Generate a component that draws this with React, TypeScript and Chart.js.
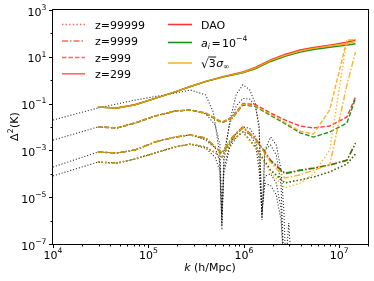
import React, { useEffect, useRef } from 'react';
import { Chart, registerables } from 'chart.js';
Chart.register(...registerables);

// ---- data (log10 values) ----
const K_MODEL_LOG10 = [4.47, 4.67, 4.86, 5.07, 5.28, 5.44, 5.60, 5.77, 5.88, 5.99, 6.12, 6.28, 6.43, 6.59, 6.73, 6.90, 7.08, 7.17];

const DAO_Z299 = [-1.15, -1.19, -1.05, -0.78, -0.50, -0.27, -0.05, 0.14, 0.25, 0.35, 0.55, 0.87, 1.10, 1.29, 1.40, 1.50, 1.62, 1.72];
const AI_Z299 = [-1.15, -1.19, -1.05, -0.78, -0.50, -0.27, -0.06, 0.12, 0.22, 0.31, 0.49, 0.80, 1.02, 1.20, 1.31, 1.41, 1.50, 1.56];
const SIG_Z299 = [-1.15, -1.19, -1.05, -0.78, -0.50, -0.27, -0.05, 0.13, 0.24, 0.33, 0.52, 0.84, 1.06, 1.25, 1.36, 1.46, 1.56, 1.65];

const DAO_Z999 = [-2.00, -2.04, -1.83, -1.53, -1.32, -1.27, -1.40, -1.79, -1.57, -1.00, -1.04, -1.40, -1.70, -1.96, -2.04, -1.96, -1.57, -0.72];
const AI_Z999 = [-2.00, -2.04, -1.83, -1.53, -1.32, -1.27, -1.42, -1.82, -1.62, -1.06, -1.12, -1.50, -1.85, -2.25, -2.43, -2.21, -1.83, -0.78];
const SIG_Z999 = [-2.00, -2.04, -1.83, -1.53, -1.32, -1.27, -1.41, -1.80, -1.60, -1.03, -1.09, -1.46, -1.80, -2.18, -2.30, -1.27, 1.72, 1.72];

const DAO_Z9999 = [-3.07, -3.11, -2.98, -2.64, -2.43, -2.34, -2.47, -3.11, -2.43, -2.00, -2.47, -3.41, -3.97, -3.84, -3.75, -3.62, -3.41, -2.68];
const AI_Z9999 = [-3.07, -3.11, -2.98, -2.64, -2.43, -2.34, -2.48, -3.13, -2.46, -2.04, -2.52, -3.45, -4.00, -3.86, -3.77, -3.63, -3.43, -2.70];
const SIG_Z9999 = [-3.07, -3.11, -2.98, -2.64, -2.43, -2.34, -2.47, -3.11, -2.44, -2.02, -2.50, -3.50, -4.18, -4.05, -3.84, -3.62, -0.20, 1.20];

const DAO_Z99999 = [-3.50, -3.54, -3.37, -3.11, -2.85, -2.73, -2.85, -3.28, -2.56, -2.21, -2.85, -3.84, -4.39, -4.26, -4.14, -3.92, -3.58, -3.15];
const AI_Z99999 = [-3.50, -3.54, -3.37, -3.11, -2.85, -2.73, -2.85, -3.28, -2.56, -2.21, -2.85, -3.84, -4.39, -4.26, -4.14, -3.92, -3.58, -3.15];
const SIG_Z99999 = [-3.50, -3.54, -3.37, -3.11, -2.85, -2.73, -2.85, -3.28, -2.56, -2.21, -2.88, -3.95, -4.60, -4.40, -4.00, -2.98, 1.72, 1.72];

const K_BLACK1_LOG10 = [4.00, 4.47, 4.86, 5.28, 5.44, 5.60, 5.68, 5.74, 5.77, 5.79, 5.85, 5.92, 5.99, 6.06, 6.12, 6.16, 6.19, 6.22, 6.28, 6.34, 6.39, 6.42, 6.44, 6.47, 6.50];
const BLACK_Z299 = [-1.70, -1.19, -0.85, -0.55, -0.42, -0.63, -1.36, -2.98, -6.20, -3.50, -1.80, -0.60, -0.20, -0.40, -1.00, -2.10, -5.90, -3.00, -2.43, -2.77, -3.84, -5.60, -8.00, -6.10, -8.00];

const K_BLACK_LOG10 = [4.00, 4.47, 4.67, 4.86, 5.07, 5.28, 5.44, 5.60, 5.70, 5.75, 5.77, 5.79, 5.85, 5.92, 5.99, 6.06, 6.12, 6.16, 6.19, 6.22, 6.28, 6.34, 6.39, 6.42];
const BLACK_Z999 = [-2.56, -2.00, -2.04, -1.83, -1.53, -1.32, -1.27, -1.44, -1.91, -2.77, -6.40, -3.20, -1.90, -1.10, -0.78, -0.80, -1.10, -1.90, -5.97, -3.00, -2.77, -3.20, -4.50, -8.00];
const BLACK_Z9999 = [-3.71, -3.07, -3.11, -2.98, -2.64, -2.43, -2.34, -2.56, -2.90, -3.50, -5.76, -3.80, -2.80, -2.25, -2.00, -2.05, -2.40, -3.40, -5.76, -4.10, -4.00, -4.40, -5.50, -8.00];
const BLACK_Z99999 = [-4.09, -3.50, -3.54, -3.37, -3.11, -2.85, -2.73, -2.90, -3.30, -3.90, -5.97, -4.00, -2.90, -2.45, -2.21, -2.30, -2.70, -3.84, -5.63, -4.40, -4.50, -4.90, -6.00, -8.00];

const X_TICK_EXP = [4, 5, 6, 7];
const Y_TICK_EXP = [3, 1, -1, -3, -5, -7];
const Z_LABELS = ['z=99999', 'z=9999', 'z=999', 'z=299'];

// ---- styles ----
const RED = 'rgba(255,0,0,0.8)';
const GREEN = 'rgba(0,135,0,0.9)';
const ORANGE = 'rgba(255,165,0,0.85)';
const BLACK = 'rgba(0,0,0,0.8)';
const LEG_RED = 'rgba(255,0,0,0.6)';
const DASH_DOT = [6, 2, 1.5, 2];
const DASHED = [4.5, 2];
const DOTTED = [1.4, 2.2];
const BLACK_DOT = [1.1, 1.9];
const FONT = '"DejaVu Sans", sans-serif';

function pts(kLog: number[], yLog: number[]) {
  return kLog.map((k, i) => ({ x: Math.pow(10, k), y: Math.pow(10, yLog[i]) }));
}

function ds(label: string, kLog: number[], yLog: number[], color: string, dash: number[], width: number, order: number) {
  return {
    label,
    data: pts(kLog, yLog),
    borderColor: color,
    backgroundColor: color,
    borderDash: dash,
    borderWidth: width,
    pointRadius: 0,
    fill: false,
    tension: 0,
    order,
  };
}

function buildDatasets() {
  const groups = [
    { dao: DAO_Z99999, ai: AI_Z99999, sig: SIG_Z99999, dash: DOTTED },
    { dao: DAO_Z9999, ai: AI_Z9999, sig: SIG_Z9999, dash: DASH_DOT },
    { dao: DAO_Z999, ai: AI_Z999, sig: SIG_Z999, dash: DASHED },
    { dao: DAO_Z299, ai: AI_Z299, sig: SIG_Z299, dash: [] as number[] },
  ];
  const out: any[] = [];
  groups.forEach((g, i) => {
    out.push(ds('DAO ' + Z_LABELS[i], K_MODEL_LOG10, g.dao, RED, g.dash, 1.4, 3));
    out.push(ds('ai ' + Z_LABELS[i], K_MODEL_LOG10, g.ai, GREEN, g.dash, 1.4, 2));
    out.push(ds('sig ' + Z_LABELS[i], K_MODEL_LOG10, g.sig, ORANGE, g.dash, 1.4, 1));
  });
  out.push(ds('black z=299', K_BLACK1_LOG10, BLACK_Z299, BLACK, BLACK_DOT, 1.1, 4));
  out.push(ds('black z=999', K_BLACK_LOG10, BLACK_Z999, BLACK, BLACK_DOT, 1.1, 4));
  out.push(ds('black z=9999', K_BLACK_LOG10, BLACK_Z9999, BLACK, BLACK_DOT, 1.1, 4));
  out.push(ds('black z=99999', K_BLACK_LOG10, BLACK_Z99999, BLACK, BLACK_DOT, 1.1, 4));
  return out;
}

function supStr(e: number) {
  return (e < 0 ? '\u2212' : '') + String(Math.abs(e));
}

const decorPlugin = {
  id: 'decor',
  afterDraw(chart: any) {
    const ctx = chart.ctx as CanvasRenderingContext2D;
    const { left, right, top, bottom } = chart.chartArea;
    const xs = chart.scales.x;
    const ys = chart.scales.y;
    const L = Math.round(left) - 0.5;
    const R = Math.round(right) + 0.5;
    const T = Math.round(top) - 0.5;
    const B = Math.round(bottom) + 0.5;
    ctx.save();
    ctx.strokeStyle = '#000';
    ctx.lineWidth = 1;
    ctx.setLineDash([]);
    ctx.strokeRect(L, T, R - L, B - T);

    // x ticks
    ctx.beginPath();
    for (let e = 4; e <= 7; e++) {
      for (let m = 1; m <= 9; m++) {
        const v = m * Math.pow(10, e);
        if (v > 2.0001e7) continue;
        const px = Math.round(xs.getPixelForValue(v)) + 0.5;
        const len = m === 1 ? 3.5 : 2;
        ctx.moveTo(px, B);
        ctx.lineTo(px, B + len);
      }
    }
    // y ticks
    for (let e = -7; e <= 3; e++) {
      const py = Math.round(ys.getPixelForValue(Math.pow(10, e))) + 0.5;
      const len = Y_TICK_EXP.includes(e) ? 3.5 : 2;
      ctx.moveTo(L, py);
      ctx.lineTo(L - len, py);
    }
    ctx.stroke();

    ctx.fillStyle = '#000';
    ctx.textBaseline = 'alphabetic';
    ctx.textAlign = 'left';
    const big = '11px ' + FONT;
    const small = '7.7px ' + FONT;

    // x tick labels
    X_TICK_EXP.forEach((e) => {
      const px = xs.getPixelForValue(Math.pow(10, e));
      ctx.font = big;
      const w1 = ctx.measureText('10').width;
      ctx.font = small;
      const s = supStr(e);
      const w2 = ctx.measureText(s).width;
      const x0 = px - (w1 + w2) / 2;
      ctx.font = big;
      ctx.fillText('10', x0, 258.5);
      ctx.font = small;
      ctx.fillText(s, x0 + w1, 252.8);
    });

    // y tick labels
    Y_TICK_EXP.forEach((e) => {
      const py = ys.getPixelForValue(Math.pow(10, e));
      ctx.font = big;
      const w1 = ctx.measureText('10').width;
      ctx.font = small;
      const s = supStr(e);
      const w2 = ctx.measureText(s).width;
      const x0 = 46.5 - (w1 + w2);
      ctx.font = big;
      ctx.fillText('10', x0, py + 5.5);
      ctx.font = small;
      ctx.fillText(s, x0 + w1, py - 0.2);
    });

    // x title: k (h/Mpc)
    {
      ctx.font = 'italic ' + big;
      const wk = ctx.measureText('k').width;
      ctx.font = big;
      const wr = ctx.measureText(' (h/Mpc)').width;
      const x0 = 210 - (wk + wr) / 2;
      ctx.font = 'italic ' + big;
      ctx.fillText('k', x0, 270.5);
      ctx.font = big;
      ctx.fillText(' (h/Mpc)', x0 + wk, 270.5);
    }

    // y title: Δ²(K)
    {
      ctx.save();
      ctx.translate(18, 127);
      ctx.rotate(-Math.PI / 2);
      ctx.font = big;
      const wd = ctx.measureText('\u0394').width;
      const wp = ctx.measureText('(K)').width;
      ctx.font = small;
      const w2 = ctx.measureText('2').width;
      const x0 = -(wd + w2 + wp) / 2;
      ctx.font = big;
      ctx.fillText('\u0394', x0, 0);
      ctx.font = small;
      ctx.fillText('2', x0 + wd + 0.3, -4.6);
      ctx.font = big;
      ctx.fillText('(K)', x0 + wd + w2 + 0.6, 0);
      ctx.restore();
    }

    // legend column 1
    const rows1 = [24, 40.5, 57, 73.3];
    const dashes = [DOTTED, DASH_DOT, DASHED, []];
    rows1.forEach((ry, i) => {
      ctx.save();
      ctx.strokeStyle = LEG_RED;
      ctx.lineWidth = 1.6;
      ctx.setLineDash(dashes[i]);
      ctx.beginPath();
      ctx.moveTo(62, ry + 0.5);
      ctx.lineTo(85, ry + 0.5);
      ctx.stroke();
      ctx.restore();
      ctx.font = big;
      ctx.fillText(Z_LABELS[i], 95, ry + 4.5);
    });

    // legend column 2
    const rows2 = [24, 42, 62.5];
    const cols2 = [RED, GREEN, ORANGE];
    rows2.forEach((ry, i) => {
      ctx.save();
      ctx.strokeStyle = cols2[i];
      ctx.lineWidth = 1.6;
      ctx.setLineDash([]);
      ctx.beginPath();
      ctx.moveTo(168, ry + 0.5);
      ctx.lineTo(192, ry + 0.5);
      ctx.stroke();
      ctx.restore();
    });
    ctx.font = big;
    ctx.fillText('DAO', 201, 28.5);
    {
      let x = 201;
      const by = 46.5;
      ctx.font = 'italic ' + big;
      ctx.fillText('a', x, by);
      x += ctx.measureText('a').width;
      ctx.font = 'italic ' + small;
      ctx.fillText('i', x, by + 2.5);
      x += ctx.measureText('i').width + 1.5;
      ctx.font = big;
      ctx.fillText('=', x, by);
      x += ctx.measureText('=').width + 1.5;
      ctx.fillText('10', x, by);
      x += ctx.measureText('10').width;
      ctx.font = small;
      ctx.fillText('\u22124', x, by - 5.7);
    }
    {
      let x = 201;
      const by = 66.5;
      ctx.font = '12px ' + FONT;
      ctx.fillText('\u221A', x, by + 1);
      const wr = ctx.measureText('\u221A').width;
      x += wr;
      ctx.font = big;
      const w3 = ctx.measureText('3').width;
      ctx.fillText('3', x, by);
      ctx.beginPath();
      ctx.lineWidth = 0.9;
      ctx.moveTo(x - 0.5, by - 9.5);
      ctx.lineTo(x + w3 + 0.5, by - 9.5);
      ctx.stroke();
      x += w3 + 0.5;
      ctx.font = 'italic ' + big;
      ctx.fillText('\u03C3', x, by);
      x += ctx.measureText('\u03C3').width;
      ctx.font = small;
      ctx.fillText('\u221E', x, by + 2.5);
    }
    ctx.restore();
  },
};

export default function App() {
  const ref = useRef<HTMLCanvasElement>(null);
  useEffect(() => {
    const chart = new Chart(ref.current as HTMLCanvasElement, {
      type: 'line',
      data: { datasets: buildDatasets() },
      options: {
        animation: false,
        responsive: false,
        maintainAspectRatio: false,
        devicePixelRatio: 1,
        layout: { padding: { left: 53, top: 10, right: 6, bottom: 37 } },
        scales: {
          x: { type: 'logarithmic', min: 1e4, max: 2e7, display: false },
          y: { type: 'logarithmic', min: 1e-7, max: 1e3, display: false },
        },
        plugins: { legend: { display: false }, tooltip: { enabled: false } },
        elements: { point: { radius: 0 }, line: { tension: 0 } },
      },
      plugins: [decorPlugin],
    } as any);
    return () => chart.destroy();
  }, []);
  return (
    <div style={{ position: 'absolute', left: 0, top: 0, width: 374, height: 281, background: '#fff' }}>
      <canvas ref={ref} width={374} height={281} style={{ width: 374, height: 281, display: 'block' }} />
    </div>
  );
}
